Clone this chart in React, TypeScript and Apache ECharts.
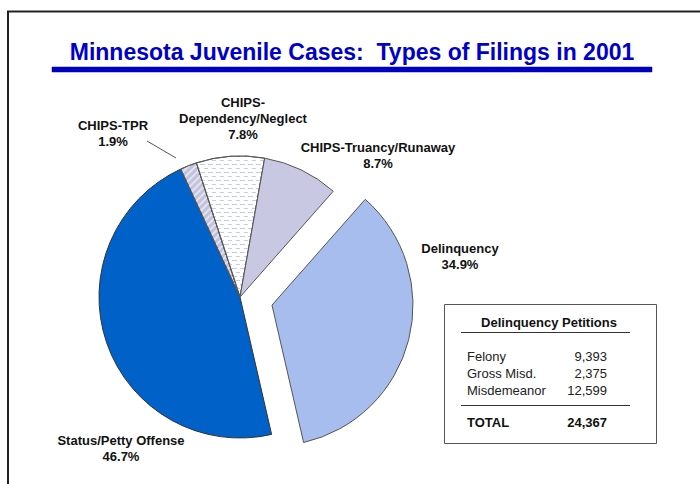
import React, { useEffect, useRef } from "react";
import * as echarts from "echarts";

const titleText = "Minnesota Juvenile Cases:  Types of Filings in 2001";
const categories = [
  "Delinquency",
  "Status/Petty Offense",
  "CHIPS-TPR",
  "CHIPS-Dependency/Neglect",
  "CHIPS-Truancy/Runaway",
];
const percents = [34.9, 46.7, 1.9, 7.8, 8.7];

const tableTitle = "Delinquency Petitions";
const petitionLabels = ["Felony", "Gross Misd.", "Misdemeanor"];
const petitionValues = [9393, 2375, 12599];
const totalLabel = "TOTAL";

// layout constants (not data): label centre x, first line middle y
const labelPos = [
  [460, 248],
  [121, 440],
  [113, 125],
  [243, 102],
  [378, 147],
];

const FONT = "'Liberation Sans', Arial, sans-serif";

export default function App() {
  const ref = useRef<HTMLDivElement>(null);
  useEffect(() => {
    if (!ref.current) return;
    const chart = echarts.init(ref.current, null, { renderer: "svg" });

    const sliceStyles: any[] = [
      { color: "#A6BDEE", borderColor: "#555", borderWidth: 1 },
      { color: "#0062C8", borderColor: "#333", borderWidth: 1 },
      {
        color: "#C2C2DC",
        borderColor: "#555",
        borderWidth: 1,
        decal: {
          symbol: "rect",
          symbolSize: 1,
          color: "rgba(255,255,255,0.55)",
          dashArrayX: [1, 0],
          dashArrayY: [2, 3],
          rotation: -Math.PI / 4,
        },
      },
      {
        color: "#FFFFFF",
        borderColor: "#555",
        borderWidth: 1,
        decal: {
          symbol: "rect",
          symbolSize: 1,
          color: "#C4CAF4",
          dashArrayX: [[5, 3], [0, 4, 4, 0]],
          dashArrayY: [1, 3],
          rotation: 0,
        },
      },
      { color: "#C8C8E2", borderColor: "#555", borderWidth: 1 },
    ];

    const data = categories.map((name, i) => ({
      name,
      value: percents[i],
      selected: i === 0,
      itemStyle: sliceStyles[i],
    }));

    const petitionTotal = petitionValues.reduce((a, b) => a + b, 0);
    const fmt = (v: number) => v.toLocaleString("en-US");

    const tableX = 444.5;
    const tableY = 304.5;
    const rowLabelX = 467;
    const rowValueX = 607;
    const rowYs = [356, 373, 390];

    const graphics: any[] = [
      // frame
      { type: "line", shape: { x1: 7, y1: 11.5, x2: 700, y2: 11.5 }, style: { stroke: "#222", lineWidth: 2 } },
      { type: "line", shape: { x1: 8, y1: 11, x2: 8, y2: 484 }, style: { stroke: "#222", lineWidth: 2 } },
      // title
      {
        type: "text",
        x: 352,
        y: 52,
        style: { text: titleText, font: `bold 23px ${FONT}`, fill: "#0000C8", align: "center", verticalAlign: "middle" },
      },
      // title bar
      { type: "rect", shape: { x: 52, y: 67, width: 600, height: 5 }, style: { fill: "#0000C8", stroke: "#00008A", lineWidth: 0.5 } },
      // table box
      { type: "rect", shape: { x: tableX, y: tableY, width: 212, height: 139 }, style: { fill: "#fff", stroke: "#555", lineWidth: 1 } },
      {
        type: "text",
        x: 549,
        y: 322,
        style: { text: tableTitle, font: `bold 13px ${FONT}`, fill: "#111", align: "center", verticalAlign: "middle" },
      },
      { type: "line", shape: { x1: 461, y1: 332.5, x2: 630, y2: 332.5 }, style: { stroke: "#333", lineWidth: 1 } },
      { type: "line", shape: { x1: 461, y1: 405.5, x2: 630, y2: 405.5 }, style: { stroke: "#333", lineWidth: 1 } },
      {
        type: "text",
        x: rowLabelX,
        y: 422,
        style: { text: totalLabel, font: `bold 13px ${FONT}`, fill: "#111", align: "left", verticalAlign: "middle" },
      },
      {
        type: "text",
        x: rowValueX,
        y: 422,
        style: { text: fmt(petitionTotal), font: `bold 13px ${FONT}`, fill: "#111", align: "right", verticalAlign: "middle" },
      },
      // leader line for CHIPS-TPR
      { type: "line", shape: { x1: 147, y1: 141, x2: 176, y2: 158 }, style: { stroke: "#555", lineWidth: 1 } },
    ];
    petitionLabels.forEach((lab, i) => {
      graphics.push({
        type: "text",
        x: rowLabelX,
        y: rowYs[i],
        style: { text: lab, font: `13px ${FONT}`, fill: "#222", align: "left", verticalAlign: "middle" },
      });
      graphics.push({
        type: "text",
        x: rowValueX,
        y: rowYs[i],
        style: { text: fmt(petitionValues[i]), font: `13px ${FONT}`, fill: "#222", align: "right", verticalAlign: "middle" },
      });
    });
    // slice labels
    categories.forEach((name, i) => {
      const nm = name === "CHIPS-Dependency/Neglect" ? "CHIPS-\nDependency/Neglect" : name;
      graphics.push({
        type: "text",
        x: labelPos[i][0],
        y: labelPos[i][1] - 8,
        style: {
          text: `${nm}\n${percents[i].toFixed(1)}%`,
          font: `bold 13px ${FONT}`,
          lineHeight: 16,
          fill: "#111",
          align: "center",
          verticalAlign: "top",
        },
      });
    });

    chart.setOption({
      animation: false,
      backgroundColor: "#fff",
      series: [
        {
          type: "pie",
          center: [240, 297],
          radius: 141,
          startAngle: 48.6,
          clockwise: true,
          selectedMode: "single",
          selectedOffset: 33,
          silent: true,
          data,
          label: { show: false },
          labelLine: { show: false },
        },
      ],
      graphic: graphics,
    });
    return () => chart.dispose();
  }, []);
  return (
    <div
      ref={ref}
      style={{ position: "absolute", left: 0, top: 0, width: 700, height: 484 }}
    />
  );
}
